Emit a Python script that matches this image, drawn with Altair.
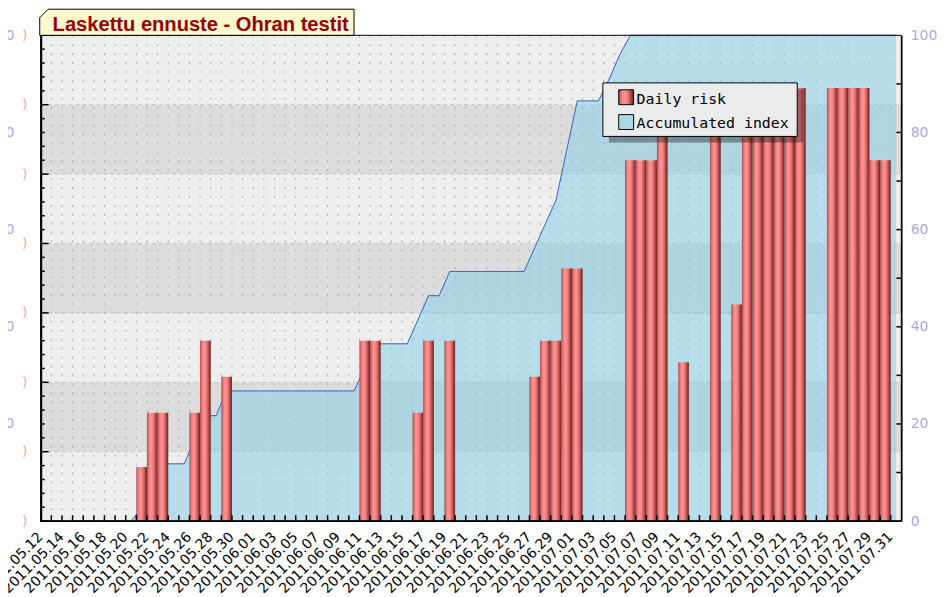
import altair as alt
import pandas as pd

# ---------------- data ----------------
dates = [d.strftime("%Y.%m.%d") for d in pd.date_range("2011-05-12", "2011-07-31", freq="D")]

daily_risk = [
    0, 0, 0, 0, 0, 0, 0, 0, 0, 1.5,          # 05.12 - 05.21
    3, 3, 0, 0, 3, 5, 0, 4, 0, 0,            # 05.22 - 05.31
    0, 0, 0, 0, 0, 0, 0, 0, 0, 0,            # 06.01 - 06.10
    5, 5, 0, 0, 0, 3, 5, 0, 5, 0,            # 06.11 - 06.20
    0, 0, 0, 0, 0, 0, 4, 5, 5, 7,            # 06.21 - 06.30
    7, 0, 0, 0, 0, 10, 10, 10, 12, 0,        # 07.01 - 07.10
    4.4, 0, 0, 12, 0, 6, 12, 12, 12, 12,     # 07.11 - 07.20
    12, 12, 0, 0, 12, 12, 12, 12, 10, 10,    # 07.21 - 07.30
    0,                                       # 07.31
]

accumulated = [
    0, 0, 0, 0, 0, 0, 0, 0, 0, 2.7,
    7.2, 11.8, 11.8, 11.8, 16.8, 21.7, 21.7, 26.8, 26.8, 26.8,
    26.8, 26.8, 26.8, 26.8, 26.8, 26.8, 26.8, 26.8, 26.8, 26.8,
    31.6, 36.5, 36.5, 36.5, 36.5, 41.4, 46.4, 46.4, 51.4, 51.4,
    51.4, 51.4, 51.4, 51.4, 51.4, 51.4, 56.3, 61.2, 66.1, 76.3,
    86.5, 86.5, 86.5, 91.0, 96.0, 100, 100, 100, 100, 100,
    100, 100, 100, 100, 100, 100, 100, 100, 100, 100,
    100, 100, 100, 100, 100, 100, 100, 100, 100, 100,
    100,
]

legend_labels = ["Daily risk", "Accumulated index"]
title_text = "Laskettu ennuste - Ohran testit"
right_label_values = [0, 20, 40, 60, 80, 100]
right_tick_values = [10, 20, 30, 40, 50, 60, 70, 80, 90]
left_blue_values = [20, 40, 60, 80, 100]

# ---------------- layout ----------------
W, H = 868, 490
X_MAX = 81
RISK_MAX = 13.46
N_BANDS = 7
step = RISK_MAX / N_BANDS

df = pd.DataFrame({"i": list(range(len(dates))), "date": dates,
                   "risk": daily_risk, "acc": accumulated})

bands = pd.DataFrame({"k": list(range(N_BANDS))})
bands["lo"] = bands["k"] * step
bands["hi"] = (bands["k"] + 1) * step
bands["dark"] = bands["k"] % 2 == 1

major_vals = [k * step for k in range(N_BANDS + 1)]
minor_vals = [(k + j / 5) * step for k in range(N_BANDS) for j in range(1, 5)]
ticks_df = pd.DataFrame({"t": list(range(1, 81))})
one = pd.DataFrame({"a": [0]})

xscale = alt.Scale(domain=[0, X_MAX], nice=False, zero=False)
rscale = alt.Scale(domain=[0, RISK_MAX], nice=False)
ascale = alt.Scale(domain=[0, 100], nice=False)

left_axis = alt.Axis(
    orient="left", values=major_vals, labelExpr="')'",
    labelColor="#F5A3AE", labelFont="DejaVu Sans", labelFontSize=14,
    labelPadding=14, labelBaseline="middle", labelOverlap=False, labelFlush=False,
    ticks=False, grid=False, domain=True, domainColor="#000000",
    domainWidth=2, title=None, zindex=1,
)
right_axis = alt.Axis(
    orient="right", values=right_label_values,
    labelColor="#A9A9E0", labelFont="DejaVu Sans", labelFontSize=14,
    labelPadding=9, labelBaseline="middle", labelAlign="left",
    labelOverlap=False, labelFlush=False,
    ticks=False, grid=False, domain=True, domainColor="#000000",
    domainWidth=1.5, title=None, zindex=1,
)
blue_left_axis = alt.Axis(
    orient="left", values=left_blue_values,
    labelColor="#A9A9E0", labelFont="DejaVu Sans", labelFontSize=14,
    labelPadding=27, labelBaseline="middle", labelAlign="right",
    labelOverlap=False, labelFlush=False,
    ticks=False, grid=False, domain=False, title=None, zindex=1,
)


def X(field):
    return alt.X(field, type="quantitative", scale=xscale, axis=None)


GRAD = alt.Gradient(
    gradient="linear", x1=0, x2=1, y1=0, y2=0,
    stops=[
        alt.GradientStop(color="#a64848", offset=0),
        alt.GradientStop(color="#e47474", offset=0.15),
        alt.GradientStop(color="#ff9494", offset=0.35),
        alt.GradientStop(color="#f58383", offset=0.55),
        alt.GradientStop(color="#c85858", offset=0.75),
        alt.GradientStop(color="#8c3232", offset=0.9),
        alt.GradientStop(color="#6a2020", offset=1),
    ],
)

band_layer = alt.Chart(bands).mark_rect().encode(
    x=alt.value(0), x2=alt.value(W),
    y=alt.Y("lo:Q", scale=rscale, axis=None), y2="hi:Q",
    color=alt.condition("datum.dark", alt.value("#DCDCDC"), alt.value("#EDEDED")),
)

vgrid = alt.Chart(ticks_df).mark_rule(color="#A8A8A8", strokeWidth=1, strokeDash=[2, 7]).encode(
    x=X("t"), y=alt.value(0), y2=alt.value(H)
)

hgrid = alt.Chart(pd.DataFrame({"v": major_vals[1:-1]})).mark_rule(
    color="#C2C2C2", strokeWidth=1, strokeDash=[4, 3]
).encode(x=alt.value(0), x2=alt.value(W), y=alt.Y("v:Q", scale=rscale, axis=None))

area = alt.Chart(df).transform_calculate(mid="datum.i + 0.5").mark_area(
    color="#83CDE7", opacity=0.5
).encode(x=X("mid"), y=alt.Y("acc:Q", scale=ascale, axis=right_axis))

line = alt.Chart(df).transform_calculate(mid="datum.i + 0.5").mark_line(
    color="#3A5FBF", strokeWidth=1
).encode(x=X("mid"), y=alt.Y("acc:Q", scale=ascale, axis=None))

blue_left = alt.Chart(df).transform_calculate(mid="datum.i + 0.5").mark_line(
    opacity=0
).encode(x=X("mid"), y=alt.Y("acc:Q", scale=ascale, axis=blue_left_axis))

bars = alt.Chart(df).transform_filter("datum.risk > 0").transform_calculate(
    i2="datum.i + 1", base="0"
).mark_rect(fill=GRAD).encode(
    x=X("i"), x2="i2:Q",
    y=alt.Y("risk:Q", scale=rscale, axis=left_axis), y2="base:Q",
)

xticks = alt.Chart(pd.DataFrame({"t": list(range(0, 81))})).mark_rule(
    color="#000000", strokeWidth=1.5
).encode(x=X("t"), y=alt.value(H), y2=alt.value(H - 6))

# date labels every second day, rotated 45 degrees, ending at the tick
xlabels = alt.Chart(df).transform_filter("datum.i % 2 == 0").mark_text(
    angle=315, align="right", baseline="middle",
    font="DejaVu Sans", fontSize=14, color="#000000"
).encode(x=X("i"), y=alt.value(H + 14), text="date:N")

bottom_line = alt.Chart(one).mark_rule(color="#000000", strokeWidth=2).encode(
    x=alt.value(0), x2=alt.value(W), y=alt.value(H)
)

lmajor = alt.Chart(pd.DataFrame({"v": major_vals})).mark_rule(color="#000000", strokeWidth=1.5).encode(
    x=alt.value(0), x2=alt.value(8), y=alt.Y("v:Q", scale=rscale, axis=None)
)
lminor = alt.Chart(pd.DataFrame({"v": minor_vals})).mark_rule(color="#000000", strokeWidth=1.5).encode(
    x=alt.value(0), x2=alt.value(4), y=alt.Y("v:Q", scale=rscale, axis=None)
)
rticks = alt.Chart(pd.DataFrame({"v": right_tick_values})).mark_rule(color="#000000", strokeWidth=1.5).encode(
    x=alt.value(W - 5), x2=alt.value(W), y=alt.Y("v:Q", scale=ascale, axis=None)
)

frame = alt.Chart(one).mark_rect(fillOpacity=0, stroke="#000000", strokeWidth=1).encode(
    x=alt.value(0), x2=alt.value(W), y=alt.value(0), y2=alt.value(H)
)

# legend (drawn by hand, JpGraph style)
LX0, LX1, LY0, LY1 = 567, 763, 48, 102
leg_shadow = alt.Chart(one).mark_rect(color="#000000", opacity=0.35).encode(
    x=alt.value(LX0 + 6), x2=alt.value(LX1 + 6), y=alt.value(LY0 + 6), y2=alt.value(LY1 + 6)
)
leg_box = alt.Chart(one).mark_rect(fill="#EBEBEB", stroke="#000000", strokeWidth=1).encode(
    x=alt.value(LX0), x2=alt.value(LX1), y=alt.value(LY0), y2=alt.value(LY1)
)
sw1 = alt.Chart(one).mark_rect(fill=GRAD, stroke="#000000", strokeWidth=1).encode(
    x=alt.value(583), x2=alt.value(598), y=alt.value(55), y2=alt.value(70)
)
sw2 = alt.Chart(one).mark_rect(fill="#ADD8E6", stroke="#000000", strokeWidth=1).encode(
    x=alt.value(583), x2=alt.value(598), y=alt.value(80), y2=alt.value(95)
)
txt1 = alt.Chart(one).mark_text(
    text=legend_labels[0], align="left", baseline="alphabetic",
    font="DejaVu Sans Mono", fontSize=15, color="#000000"
).encode(x=alt.value(601), y=alt.value(69))
txt2 = alt.Chart(one).mark_text(
    text=legend_labels[1], align="left", baseline="alphabetic",
    font="DejaVu Sans Mono", fontSize=15, color="#000000"
).encode(x=alt.value(601), y=alt.value(94))

# title tab with chamfered corner
TAB_PATH = "M-1,0.083 L-1,-0.0294 L-0.9464,-0.083 L1,-0.083 L1,0.083 Z"
tab = alt.Chart(one).mark_point(
    shape=TAB_PATH, size=317 * 317, filled=True, fill="#FFFACD",
    stroke="#000000", strokeWidth=1, opacity=1, fillOpacity=1, strokeOpacity=1
).encode(x=alt.value(157.5), y=alt.value(-13.15))
title = alt.Chart(one).mark_text(
    text=title_text, align="left", baseline="alphabetic",
    font="Liberation Sans", fontWeight="bold", fontSize=20.3, color="#990000"
).encode(x=alt.value(12), y=alt.value(-4))

chart = alt.layer(
    band_layer, vgrid, hgrid, area, line, blue_left, bars, xticks, xlabels,
    lmajor, lminor, rticks, frame, bottom_line, leg_shadow, leg_box, sw1, sw2,
    txt1, txt2, tab, title,
).resolve_scale(y="independent").properties(
    width=W, height=H,
    padding={"left": 33, "top": 25, "right": 38, "bottom": 74},
    autosize=alt.AutoSizeParams(type="none"),
).configure_view(stroke=None).configure(background="white")

chart.save("out.html", embed_options={"renderer": "svg", "actions": False})
